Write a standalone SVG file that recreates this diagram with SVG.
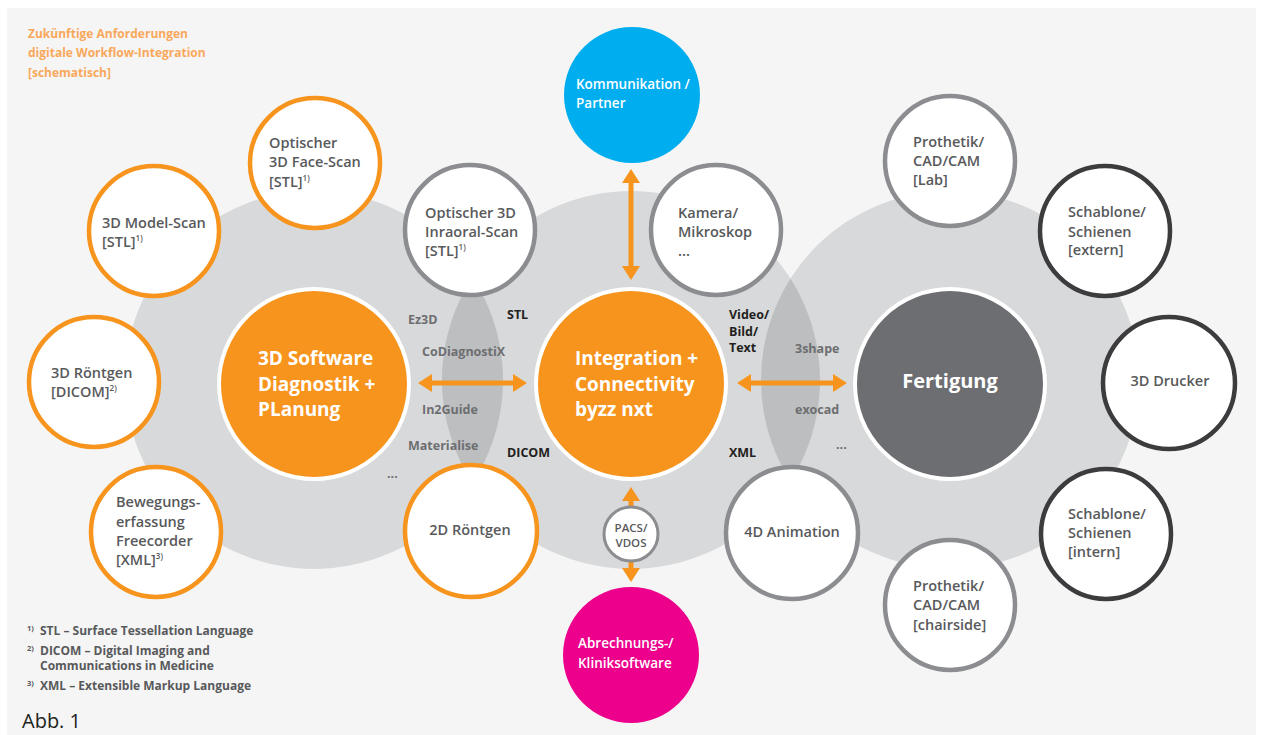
<svg xmlns="http://www.w3.org/2000/svg" width="1261" height="735" viewBox="0 0 1261 735">
<style>
text{font-family:"Open Sans","Liberation Sans",sans-serif;}
.nt{font-size:14.5px;font-weight:600;fill:#58595b;}
.sup{font-size:8px;}
.big{font-size:19px;font-weight:700;fill:#ffffff;}
.wt{font-size:13.5px;font-weight:600;fill:#ffffff;}
.lg{font-size:12.5px;font-weight:700;fill:#6d6e71;}
.lb{font-size:12.5px;font-weight:700;fill:#231f20;}
.title{font-size:12px;font-weight:700;fill:#f9a85b;}
.fn{font-size:12px;font-weight:700;fill:#58595b;}
.fs{font-size:7.5px;font-weight:700;fill:#58595b;}
.o{fill:#ffffff;stroke:#f7941d;stroke-width:4.5;}
.g{fill:#ffffff;stroke:#8c8d90;stroke-width:4.5;}
.d{fill:#ffffff;stroke:#3c3c3e;stroke-width:4.5;}
.arr{stroke:#f7941d;stroke-width:5;fill:none;}
</style>
<defs>
<marker id="ah" markerUnits="userSpaceOnUse" markerWidth="14" markerHeight="18" refX="4" refY="9" orient="auto-start-reverse">
<path d="M0,0 L14,9 L0,18 z" fill="#f7941d"/>
</marker>
<clipPath id="cL"><circle cx="314" cy="380" r="189"/></clipPath>
<clipPath id="cR"><circle cx="950" cy="380" r="189"/></clipPath>
</defs>
<rect x="0" y="0" width="1261" height="735" fill="#ffffff"/>
<rect x="7" y="8" width="1249" height="727" fill="#f5f5f5"/>

<g id="background-circles">
<circle cx="314" cy="380" r="189" fill="#d8d9da"/>
<circle cx="631" cy="380" r="189" fill="#d8d9da"/>
<circle cx="950" cy="380" r="189" fill="#d8d9da"/>
<circle cx="631" cy="380" r="189" fill="#bdbec0" clip-path="url(#cL)"/>
<circle cx="631" cy="380" r="189" fill="#bdbec0" clip-path="url(#cR)"/>
</g>

<g id="title">
<text class="title" x="28" y="38">Zukünftige Anforderungen</text>
<text class="title" x="28" y="57">digitale Workflow-Integration</text>
<text class="title" x="28" y="77">[schematisch]</text>
</g>

<g id="connectors">
<line class="arr" x1="428" y1="383" x2="517" y2="383" marker-start="url(#ah)" marker-end="url(#ah)"/>
<line class="arr" x1="747" y1="383" x2="837" y2="383" marker-start="url(#ah)" marker-end="url(#ah)"/>
<line class="arr" x1="631" y1="179" x2="631" y2="270" marker-start="url(#ah)" marker-end="url(#ah)"/>
<line class="arr" x1="631" y1="506" x2="631" y2="497" marker-end="url(#ah)"/>
<line class="arr" x1="631" y1="562" x2="631" y2="572" marker-end="url(#ah)"/>
</g>

<g id="labels">
<text class="lg" x="408" y="324">Ez3D</text>
<text class="lg" x="422" y="356">CoDiagnostiX</text>
<text class="lg" x="422" y="414">In2Guide</text>
<text class="lg" x="408" y="450">Materialise</text>
<text class="lg" x="387" y="478">...</text>
<text class="lb" x="507" y="319">STL</text>
<text class="lb" x="507" y="457">DICOM</text>
<text class="lb" x="729" y="319">Video/</text>
<text class="lb" x="729" y="336">Bild/</text>
<text class="lb" x="729" y="352">Text</text>
<text class="lb" x="729" y="457">XML</text>
<text class="lg" x="795" y="353">3shape</text>
<text class="lg" x="795" y="414">exocad</text>
<text class="lg" x="836" y="449">...</text>
</g>

<g id="node-software">
<circle cx="314" cy="384" r="95" fill="#f7941d" stroke="#ffffff" stroke-width="4"/>
<text class="big" x="258" y="365">3D Software</text>
<text class="big" x="258" y="391">Diagnostik +</text>
<text class="big" x="258" y="416">PLanung</text>
</g>
<g id="node-integration">
<circle cx="631" cy="384" r="95" fill="#f7941d" stroke="#ffffff" stroke-width="4"/>
<text class="big" x="575" y="365">Integration +</text>
<text class="big" x="575" y="391">Connectivity</text>
<text class="big" x="575" y="416">byzz nxt</text>
</g>
<g id="node-fertigung">
<circle cx="950" cy="384" r="95" fill="#6d6e71" stroke="#ffffff" stroke-width="4"/>
<text class="big" x="950" y="388" text-anchor="middle" style="font-size:20px">Fertigung</text>
</g>

<g id="node-kommunikation">
<circle cx="632" cy="95" r="68" fill="#00aeef"/>
<text class="wt" x="576" y="89">Kommunikation /</text>
<text class="wt" x="576" y="108">Partner</text>
</g>
<g id="node-abrechnung">
<circle cx="631" cy="655" r="68" fill="#ec008c"/>
<text class="wt" x="578" y="648">Abrechnungs-/</text>
<text class="wt" x="578" y="668">Kliniksoftware</text>
</g>
<g id="node-pacs">
<circle cx="631" cy="534" r="27" fill="#ffffff" stroke="#8c8d90" stroke-width="3"/>
<text class="nt" x="631" y="532" text-anchor="middle" style="font-size:11.5px">PACS/</text>
<text class="nt" x="631" y="547" text-anchor="middle" style="font-size:11.5px">VDOS</text>
</g>

<g id="node-facescan">
<circle class="o" cx="315" cy="163" r="65"/>
<text class="nt" x="269" y="148">Optischer</text>
<text class="nt" x="269" y="167">3D Face-Scan</text>
<text class="nt" x="269" y="187">[STL]<tspan class="sup" dy="-6">1)</tspan></text>
</g>
<g id="node-modelscan">
<circle class="o" cx="154" cy="231" r="65"/>
<text class="nt" x="102" y="228">3D Model-Scan</text>
<text class="nt" x="102" y="247">[STL]<tspan class="sup" dy="-6">1)</tspan></text>
</g>
<g id="node-3droentgen">
<circle class="o" cx="94" cy="382" r="65"/>
<text class="nt" x="51" y="378">3D Röntgen</text>
<text class="nt" x="51" y="397">[DICOM]<tspan class="sup" dy="-6">2)</tspan></text>
</g>
<g id="node-bewegung">
<circle class="o" cx="156" cy="532" r="65"/>
<text class="nt" x="116" y="507">Bewegungs-</text>
<text class="nt" x="116" y="527">erfassung</text>
<text class="nt" x="116" y="546">Freecorder</text>
<text class="nt" x="116" y="565">[XML]<tspan class="sup" dy="-6">3)</tspan></text>
</g>
<g id="node-2droentgen">
<circle class="o" cx="471" cy="531" r="66"/>
<text class="nt" x="470" y="535" text-anchor="middle">2D Röntgen</text>
</g>
<g id="node-intraoral">
<circle class="g" cx="470" cy="230" r="65"/>
<text class="nt" x="425" y="218">Optischer 3D</text>
<text class="nt" x="425" y="237">Inraoral-Scan</text>
<text class="nt" x="425" y="256">[STL]<tspan class="sup" dy="-6">1)</tspan></text>
</g>
<g id="node-kamera">
<circle class="g" cx="716" cy="230" r="65"/>
<text class="nt" x="678" y="218">Kamera/</text>
<text class="nt" x="678" y="237">Mikroskop</text>
<text class="nt" x="678" y="256">...</text>
</g>
<g id="node-4danimation">
<circle class="g" cx="792" cy="533" r="66"/>
<text class="nt" x="792" y="537" text-anchor="middle">4D Animation</text>
</g>
<g id="node-prothetik-lab">
<circle class="g" cx="950" cy="161" r="65"/>
<text class="nt" x="913" y="147">Prothetik/</text>
<text class="nt" x="913" y="166">CAD/CAM</text>
<text class="nt" x="913" y="185">[Lab]</text>
</g>
<g id="node-prothetik-chairside">
<circle class="g" cx="950" cy="605" r="65"/>
<text class="nt" x="913" y="591">Prothetik/</text>
<text class="nt" x="913" y="610">CAD/CAM</text>
<text class="nt" x="913" y="630">[chairside]</text>
</g>
<g id="node-schablone-extern">
<circle class="d" cx="1105" cy="231" r="65"/>
<text class="nt" x="1068" y="217">Schablone/</text>
<text class="nt" x="1068" y="237">Schienen</text>
<text class="nt" x="1068" y="255">[extern]</text>
</g>
<g id="node-3ddrucker">
<circle class="d" cx="1169" cy="383" r="66"/>
<text class="nt" x="1170" y="386" text-anchor="middle">3D Drucker</text>
</g>
<g id="node-schablone-intern">
<circle class="d" cx="1106" cy="534" r="65"/>
<text class="nt" x="1068" y="519">Schablone/</text>
<text class="nt" x="1068" y="538">Schienen</text>
<text class="nt" x="1068" y="557">[intern]</text>
</g>

<g id="footnotes">
<text class="fs" x="27" y="631">1)</text>
<text class="fn" x="40" y="635">STL – Surface Tessellation Language</text>
<text class="fs" x="27" y="651">2)</text>
<text class="fn" x="40" y="655">DICOM – Digital Imaging and</text>
<text class="fn" x="40" y="670">Communications in Medicine</text>
<text class="fs" x="27" y="686">3)</text>
<text class="fn" x="40" y="690">XML – Extensible Markup Language</text>
<text x="22" y="728" style="font-size:20px;fill:#231f20;">Abb. 1</text>
</g>
</svg>
